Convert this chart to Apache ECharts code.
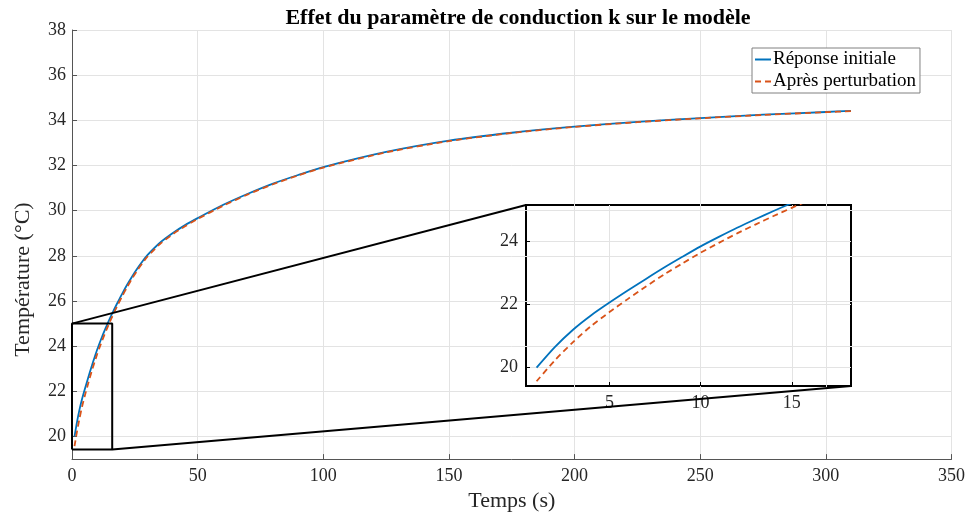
<!DOCTYPE html>
<html><head><meta charset="utf-8">
<script src="https://cdn.jsdelivr.net/npm/echarts@6/dist/echarts.min.js"></script>
<style>html,body{margin:0;padding:0;background:#fff}#c{width:968px;height:517px}</style>
</head><body><div id="c"></div>
<script>
// ---- data ----
const time      = [1, 2, 3, 4, 5, 6, 7, 8, 9, 10, 11, 12, 13, 14, 15, 16, 17, 18, 20, 22, 24, 26, 28, 30, 35, 40, 45, 50, 60, 70, 80, 90, 100, 125, 150, 175, 200, 225, 250, 275, 300, 310];
const initial   = [20.0, 20.65, 21.2, 21.66, 22.06, 22.44, 22.81, 23.17, 23.51, 23.84, 24.14, 24.43, 24.7, 24.96, 25.21, 25.45, 25.68, 25.9, 26.33, 26.73, 27.1, 27.44, 27.75, 28.03, 28.58, 29.0, 29.36, 29.67, 30.25, 30.75, 31.2, 31.58, 31.93, 32.6, 33.1, 33.45, 33.72, 33.93, 34.1, 34.25, 34.37, 34.42];
const perturbed = [19.57, 20.23, 20.81, 21.32, 21.76, 22.17, 22.57, 22.95, 23.3, 23.64, 23.95, 24.25, 24.53, 24.8, 25.06, 25.31, 25.55, 25.78, 26.22, 26.63, 27.01, 27.36, 27.67, 27.96, 28.52, 28.95, 29.31, 29.63, 30.21, 30.72, 31.17, 31.56, 31.91, 32.58, 33.08, 33.44, 33.71, 33.92, 34.09, 34.24, 34.36, 34.41];
const seriesNames = ['Réponse initiale', 'Après perturbation'];
const xTicks = [0, 50, 100, 150, 200, 250, 300, 350];
const yTicks = [20, 22, 24, 26, 28, 30, 32, 34, 36, 38];
const yRange = [19, 38];
const zoomBoxX = [0, 16];
const zoomBoxY = [19.43, 25];
const insetXRange = [0.42, 18.25];
const insetYRange = [19.42, 25.15];
const insetXTicks = [5, 10, 15];
const insetYTicks = [20, 22, 24];

const FONT = '"Liberation Serif", "DejaVu Serif", serif';
const BLUE = '#0072BD', RED = '#D95319';
const pairs = (xs, ys) => xs.map((x, i) => [x, ys[i]]);
const boxData = [[zoomBoxX[0], zoomBoxY[0]], [zoomBoxX[1], zoomBoxY[0]], [zoomBoxX[1], zoomBoxY[1]], [zoomBoxX[0], zoomBoxY[1]], [zoomBoxX[0], zoomBoxY[0]]];
const onlyIn = (list) => (v) => list.some(t => Math.abs(t - v) < 1e-6) ? String(v) : '';

const chart = echarts.init(document.getElementById('c'), null, {renderer: 'canvas'});
const tickLabel = {color: '#262626', fontFamily: FONT, fontSize: 18};
const gridLine = {show: true, lineStyle: {color: '#e3e3e3', width: 1}};
const curve = {type: 'line', smooth: 0.25, showSymbol: false, symbol: 'none'};

const option = {
  backgroundColor: '#fff',
  animation: false,
  title: {text: 'Effet du paramètre de conduction k sur le modèle', left: 513, top: 2, textAlign: 'center',
    textStyle: {fontFamily: FONT, fontSize: 22, fontWeight: 'bold', color: '#000'}},
  legend: {
    data: seriesNames, orient: 'vertical', left: 752, top: 48, itemWidth: 16, itemHeight: 12, itemGap: 3,
    padding: [2, 4, 2, 2], backgroundColor: '#fff', borderColor: '#808080', borderWidth: 1, borderRadius: 0,
    itemStyle: {opacity: 0},
    textStyle: {fontFamily: FONT, fontSize: 19, color: '#000', padding: [0, 0, 0, -3]}
  },
  grid: [
    {left: 72, top: 30, width: 880, height: 434, containLabel: false},
    {left: 526, top: 205, width: 325, height: 181, show: true, backgroundColor: 'transparent', borderColor: '#000', borderWidth: 2}
  ],
  xAxis: [
    {type: 'value', gridIndex: 0, min: xTicks[0], max: xTicks[xTicks.length - 1], interval: 50,
      name: 'Temps (s)', nameLocation: 'middle', nameGap: 25,
      nameTextStyle: {fontFamily: FONT, fontSize: 22, color: '#262626'},
      axisLine: {show: true, onZero: false, lineStyle: {color: '#555', width: 1}},
      axisTick: {show: true, inside: true, length: 5, lineStyle: {color: '#555'}},
      axisLabel: Object.assign({margin: 8}, tickLabel),
      splitLine: gridLine},
    {type: 'value', gridIndex: 1, min: insetXRange[0], max: insetXRange[1], splitNumber: 3,
      axisLine: {show: false, onZero: false},
      axisTick: {show: true, inside: true, length: 4, customValues: insetXTicks, lineStyle: {color: '#000'}},
      axisLabel: Object.assign({margin: 8, customValues: insetXTicks, formatter: onlyIn(insetXTicks)}, tickLabel),
      splitLine: gridLine}
  ],
  yAxis: [
    {type: 'value', gridIndex: 0, min: yRange[0], max: yRange[1], splitNumber: 9,
      name: 'Température (°C)', nameLocation: 'middle', nameGap: 38, nameRotate: 90,
      nameTextStyle: {fontFamily: FONT, fontSize: 22, color: '#262626', padding: [0, 70, 0, 0]},
      axisLine: {show: true, onZero: false, lineStyle: {color: '#555', width: 1}},
      axisTick: {show: true, inside: true, length: 5, customValues: yTicks, lineStyle: {color: '#555'}},
      axisLabel: Object.assign({margin: 6, customValues: yTicks, formatter: onlyIn(yTicks)}, tickLabel),
      splitLine: gridLine},
    {type: 'value', gridIndex: 1, min: insetYRange[0], max: insetYRange[1], splitNumber: 3,
      axisLine: {show: false, onZero: false},
      axisTick: {show: true, inside: true, length: 4, customValues: insetYTicks, lineStyle: {color: '#000'}},
      axisLabel: Object.assign({margin: 8, customValues: insetYTicks, formatter: onlyIn(insetYTicks)}, tickLabel),
      splitLine: gridLine}
  ],
  series: [
    Object.assign({name: seriesNames[0], xAxisIndex: 0, yAxisIndex: 0, data: pairs(time, initial),
      lineStyle: {color: BLUE, width: 1.8}, itemStyle: {color: BLUE}, z: 3}, curve),
    Object.assign({name: seriesNames[1], xAxisIndex: 0, yAxisIndex: 0, data: pairs(time, perturbed),
      lineStyle: {color: RED, width: 1.8, type: [6, 4]}, itemStyle: {color: RED}, z: 4}, curve),
    {name: 'zoomBox', type: 'line', xAxisIndex: 0, yAxisIndex: 0, data: boxData, silent: true,
      showSymbol: false, symbol: 'none', lineStyle: {color: '#000', width: 2}, z: 5, clip: false},
    Object.assign({name: 'inset1', xAxisIndex: 1, yAxisIndex: 1, data: pairs(time, initial), clip: true,
      lineStyle: {color: BLUE, width: 1.8}, z: 3}, curve),
    Object.assign({name: 'inset2', xAxisIndex: 1, yAxisIndex: 1, data: pairs(time, perturbed), clip: true,
      lineStyle: {color: RED, width: 1.8, type: [6, 4]}, z: 4}, curve)
  ]
};
chart.setOption(option);

const a1 = chart.convertToPixel({gridIndex: 0}, [zoomBoxX[0], zoomBoxY[1]]);
const b1 = chart.convertToPixel({gridIndex: 1}, [insetXRange[0], insetYRange[1]]);
const a2 = chart.convertToPixel({gridIndex: 0}, [zoomBoxX[1], zoomBoxY[0]]);
const b2 = chart.convertToPixel({gridIndex: 1}, [insetXRange[1], insetYRange[0]]);
chart.setOption({graphic: [
  {type: 'line', z: 100, silent: true, shape: {x1: a1[0], y1: a1[1], x2: b1[0], y2: b1[1]}, style: {stroke: '#000', lineWidth: 2}},
  {type: 'line', z: 100, silent: true, shape: {x1: a2[0], y1: a2[1], x2: b2[0], y2: b2[1]}, style: {stroke: '#000', lineWidth: 2}}
]});
</script>
</body></html>
